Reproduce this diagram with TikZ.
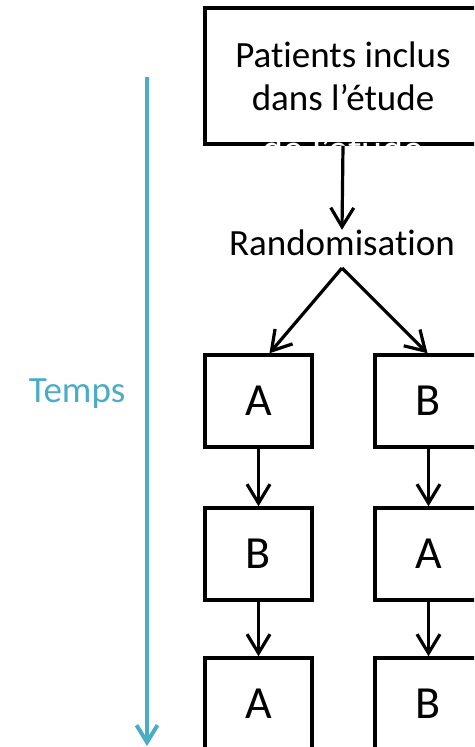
\documentclass[tikz,border=0pt]{standalone}
\usepackage{fontspec}
\setmainfont{Carlito}[Ligatures=NoCommon]
\usetikzlibrary{arrows.meta,positioning}
\definecolor{tempsblue}{RGB}{75,172,198}
\tikzset{
  phase/.style={draw, line width=3.5pt, minimum width=107pt, minimum height=92pt, inner sep=0pt,
    font=\fontsize{46}{55}\selectfont},
  flow/.style={line width=3.2pt, -{Straight Barb[length=19pt,width=23pt]}},
  bigtext/.style={font=\fontsize{37}{43}\selectfont}
}
\begin{document}
\begin{tikzpicture}[x=1pt,y=-1pt]
    \useasboundingbox (0,0) rectangle (474,747);
    \clip (0,0) rectangle (474,747);
    \node[draw, line width=3.5pt, minimum width=276pt, minimum height=136pt, bigtext, align=center] (incl) at (343,76) {Patients inclus\\dans l'étude};
    \node[anchor=base, text=white, font=\fontsize{40}{48}\selectfont] (ghost) at (343,162) {de l'étude};
    \node[bigtext, inner sep=0pt] (rand) at (342,243) {Randomisation};
    \coordinate (split) at (342,268);
    \node[phase] (a1) at (258.5,401) {A};
    \node[phase] (b1) at (428.5,401) {B};
    \node[phase] (b2) at (258.5,554) {B};
    \node[phase] (a2) at (428.5,554) {A};
    \node[phase] (a3) at (258.5,704) {A};
    \node[phase] (b3) at (428.5,704) {B};
    \draw[flow] (incl.south) -- (rand.north);
    \draw[flow] (split) -- ([xshift=11pt]a1.north);
    \draw[flow] (split) -- ([xshift=-1pt]b1.north);
    \draw[flow] (a1) -- (b2);
    \draw[flow] (b1) -- (a2);
    \draw[flow] (b2) -- (a3);
    \draw[flow] (a2) -- (b3);
    \coordinate (t0) at (147,77);
    \coordinate (t1) at (147,746);
    \draw[tempsblue, line width=4pt, -{Straight Barb[length=17pt,width=21pt]}] (t0) -- (t1);
    \node[bigtext, text=tempsblue] (temps) at (77,394) {Temps};
\end{tikzpicture}
\end{document}
